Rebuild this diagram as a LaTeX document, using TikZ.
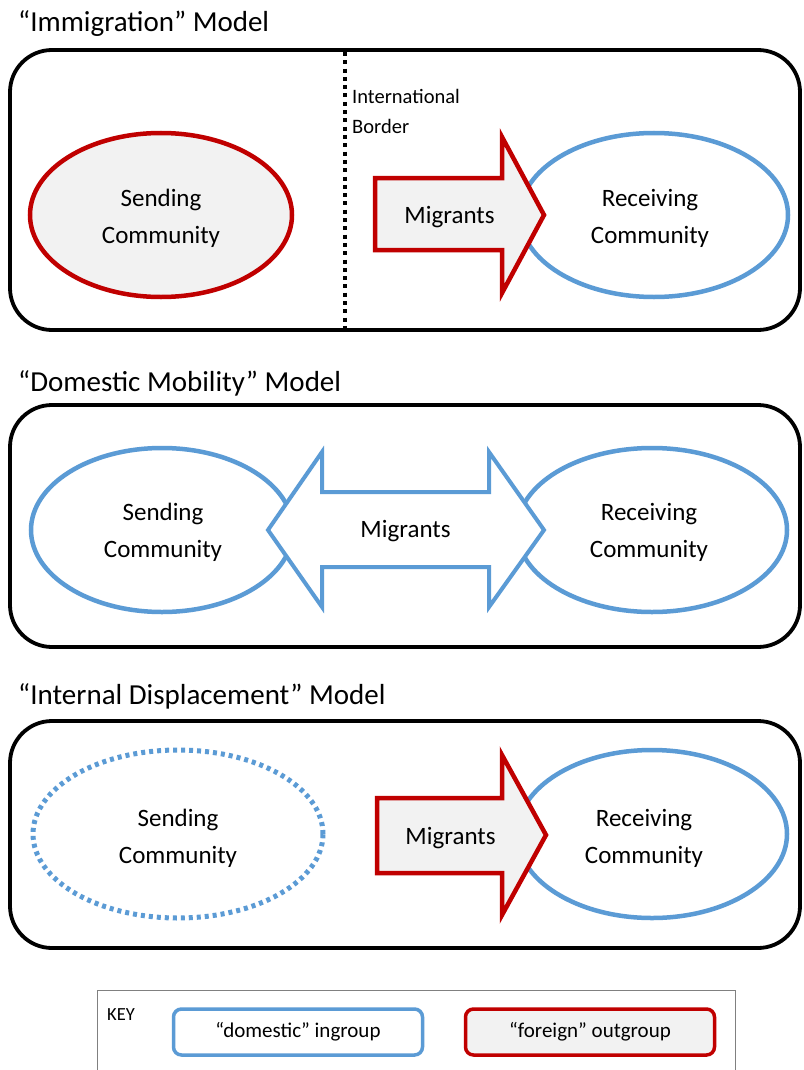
\documentclass[tikz,border=0pt]{standalone}
\usepackage{fontspec}
\setmainfont{Carlito}
\usetikzlibrary{shapes.geometric}
\definecolor{myred}{HTML}{C00000}
\definecolor{myblue}{HTML}{5B9BD5}
\definecolor{mygray}{HTML}{F2F2F2}
\definecolor{keygray}{HTML}{808080}
\tikzset{
  panel/.style={draw=black, line width=3.8pt, rounded corners=42pt, minimum width=790pt, inner sep=0pt},
  titletext/.style={anchor=base west, inner sep=0pt, font=\fontsize{29}{34}\selectfont},
  comm/.style={ellipse, inner sep=0pt, line width=4.5pt},
  commtext/.style={align=center, inner sep=0pt, font=\fontsize{25}{37}\selectfont},
  outgroup/.style={draw=myred, fill=mygray},
  ingroup/.style={draw=myblue, fill=white},
  dottedcomm/.style={draw=myblue, fill=white, line width=5pt, dash pattern=on 4pt off 4pt},
  arrowline/.style={line width=4.5pt, miter limit=10},
  lbl/.style={inner sep=0pt, font=\fontsize{25}{30}\selectfont},
  small/.style={inner sep=0pt, anchor=base west, font=\fontsize{20.5}{24}\selectfont},
  borderline/.style={line width=4pt, dash pattern=on 4pt off 4.3pt},
  keybox/.style={draw, line width=3.5pt, rounded corners=8pt, minimum width=249pt, minimum height=46pt, inner sep=0pt, font=\fontsize{21}{25}\selectfont}
}
\begin{document}
\begin{tikzpicture}[x=1pt,y=-1pt]
\useasboundingbox[fill=white] (0,0) rectangle (803,1070);

% ---------- Panel 1: Immigration ----------
\node[titletext] (t1) at (18,32) {“Immigration” Model};
\node[panel, minimum height=280pt] (p1) at (405,190) {};
\coordinate (b1) at (345,52);
\coordinate (b2) at (345,328);
\draw[borderline] (b1) -- (b2);
\node[small] (intl) at (352,104) {International};
\node[small] (bord) at (352,134) {Border};
\node[comm, outgroup, minimum width=262pt, minimum height=164pt] (s1) at (161,215) {};
\node[commtext] (s1t) at (161,218) {Sending\\Community};
\node[comm, ingroup, minimum width=268pt, minimum height=164pt] (r1) at (654,215) {};
\node[commtext] (r1t) at (650,218) {Receiving\\Community};
\draw[arrowline, draw=myred, fill=mygray]
  (375,178) -- (502,178) -- (502,137) -- (544,215) -- (502,293) -- (502,250) -- (375,250) -- cycle;
\node[lbl] (m1) at (449.5,217) {Migrants};

% ---------- Panel 2: Domestic Mobility ----------
\node[titletext] (t2) at (18,391) {“Domestic Mobility” Model};
\node[panel, minimum height=242pt] (p2) at (405,526) {};
\node[comm, ingroup, minimum width=262pt, minimum height=164pt] (s2) at (162,530) {};
\node[commtext] (s2t) at (163,532) {Sending\\Community};
\node[comm, ingroup, minimum width=270pt, minimum height=164pt] (r2) at (652,530) {};
\node[commtext] (r2t) at (649,532) {Receiving\\Community};
\draw[arrowline, line width=4pt, draw=myblue, fill=white]
  (268,530) -- (322,452) -- (322,492) -- (489,492) -- (489,452) -- (544,530)
  -- (489,607) -- (489,567) -- (322,567) -- (322,607) -- cycle;
\node[lbl] (m2) at (405.5,531) {Migrants};

% ---------- Panel 3: Internal Displacement ----------
\node[titletext] (t3) at (18,704) {“Internal Displacement” Model};
\node[panel, minimum height=227pt] (p3) at (405,834.5) {};
\node[comm, dottedcomm, minimum width=290pt, minimum height=168pt] (s3) at (178,834) {};
\node[commtext] (s3t) at (178,838) {Sending\\Community};
\node[comm, ingroup, minimum width=270pt, minimum height=168pt] (r3) at (652,834) {};
\node[commtext] (r3t) at (644,838) {Receiving\\Community};
\draw[arrowline, draw=myred, fill=mygray]
  (377,798) -- (502,798) -- (502,755) -- (546,835) -- (502,915) -- (502,873) -- (377,873) -- cycle;
\node[lbl] (m3) at (450.5,838) {Migrants};

% ---------- Key ----------
\coordinate (k1) at (97,1070);
\coordinate (k2) at (97,990);
\coordinate (k3) at (735,990);
\coordinate (k4) at (735,1070);
\draw[keygray, line width=1pt] (k1) -- (k2) -- (k3) -- (k4);
\node[inner sep=0pt, anchor=base west, font=\fontsize{18.5}{20}\selectfont] (key) at (107,1020) {KEY};
\node[keybox, draw=myblue, fill=white] (kin) at (298,1032) {“domestic” ingroup};
\node[keybox, draw=myred, fill=mygray] (kout) at (590,1032) {“foreign” outgroup};
\end{tikzpicture}
\end{document}
